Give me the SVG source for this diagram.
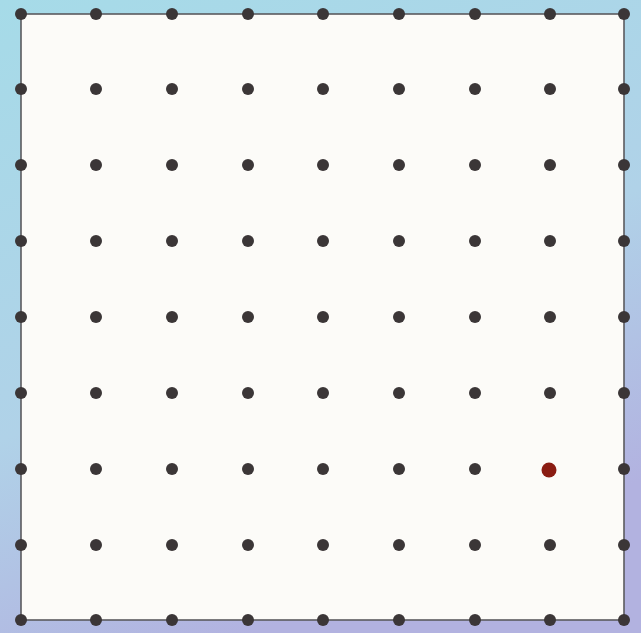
<svg xmlns="http://www.w3.org/2000/svg" width="641" height="633" viewBox="0 0 641 633">
<defs>
<linearGradient id="bg" x1="0" y1="0" x2="0.4" y2="1">
<stop offset="0" stop-color="#a6dbe8"/>
<stop offset="0.6" stop-color="#b0d2e8"/>
<stop offset="1" stop-color="#b2b2e0"/>
</linearGradient>
<style>
.d{fill:#3b3637}
.r{fill:#8a1c12}
</style>
</defs>
<rect width="641" height="633" fill="url(#bg)"/>
<rect x="21" y="14" width="603" height="606" fill="#fcfbf8" stroke="#5a5a5e" stroke-width="1.6"/>
<g id="dots">
<g id="row0"><circle class="d" cx="21" cy="14" r="6"/><circle class="d" cx="96" cy="14" r="6"/><circle class="d" cx="172" cy="14" r="6"/><circle class="d" cx="248" cy="14" r="6"/><circle class="d" cx="323" cy="14" r="6"/><circle class="d" cx="399" cy="14" r="6"/><circle class="d" cx="475" cy="14" r="6"/><circle class="d" cx="550" cy="14" r="6"/><circle class="d" cx="624" cy="14" r="6"/></g>
<g id="row1"><circle class="d" cx="21" cy="89" r="6"/><circle class="d" cx="96" cy="89" r="6"/><circle class="d" cx="172" cy="89" r="6"/><circle class="d" cx="248" cy="89" r="6"/><circle class="d" cx="323" cy="89" r="6"/><circle class="d" cx="399" cy="89" r="6"/><circle class="d" cx="475" cy="89" r="6"/><circle class="d" cx="550" cy="89" r="6"/><circle class="d" cx="624" cy="89" r="6"/></g>
<g id="row2"><circle class="d" cx="21" cy="165" r="6"/><circle class="d" cx="96" cy="165" r="6"/><circle class="d" cx="172" cy="165" r="6"/><circle class="d" cx="248" cy="165" r="6"/><circle class="d" cx="323" cy="165" r="6"/><circle class="d" cx="399" cy="165" r="6"/><circle class="d" cx="475" cy="165" r="6"/><circle class="d" cx="550" cy="165" r="6"/><circle class="d" cx="624" cy="165" r="6"/></g>
<g id="row3"><circle class="d" cx="21" cy="241" r="6"/><circle class="d" cx="96" cy="241" r="6"/><circle class="d" cx="172" cy="241" r="6"/><circle class="d" cx="248" cy="241" r="6"/><circle class="d" cx="323" cy="241" r="6"/><circle class="d" cx="399" cy="241" r="6"/><circle class="d" cx="475" cy="241" r="6"/><circle class="d" cx="550" cy="241" r="6"/><circle class="d" cx="624" cy="241" r="6"/></g>
<g id="row4"><circle class="d" cx="21" cy="317" r="6"/><circle class="d" cx="96" cy="317" r="6"/><circle class="d" cx="172" cy="317" r="6"/><circle class="d" cx="248" cy="317" r="6"/><circle class="d" cx="323" cy="317" r="6"/><circle class="d" cx="399" cy="317" r="6"/><circle class="d" cx="475" cy="317" r="6"/><circle class="d" cx="550" cy="317" r="6"/><circle class="d" cx="624" cy="317" r="6"/></g>
<g id="row5"><circle class="d" cx="21" cy="393" r="6"/><circle class="d" cx="96" cy="393" r="6"/><circle class="d" cx="172" cy="393" r="6"/><circle class="d" cx="248" cy="393" r="6"/><circle class="d" cx="323" cy="393" r="6"/><circle class="d" cx="399" cy="393" r="6"/><circle class="d" cx="475" cy="393" r="6"/><circle class="d" cx="550" cy="393" r="6"/><circle class="d" cx="624" cy="393" r="6"/></g>
<g id="row6"><circle class="d" cx="21" cy="469" r="6"/><circle class="d" cx="96" cy="469" r="6"/><circle class="d" cx="172" cy="469" r="6"/><circle class="d" cx="248" cy="469" r="6"/><circle class="d" cx="323" cy="469" r="6"/><circle class="d" cx="399" cy="469" r="6"/><circle class="d" cx="475" cy="469" r="6"/><circle class="r" cx="549" cy="470" r="7.5"/><circle class="d" cx="624" cy="469" r="6"/></g>
<g id="row7"><circle class="d" cx="21" cy="545" r="6"/><circle class="d" cx="96" cy="545" r="6"/><circle class="d" cx="172" cy="545" r="6"/><circle class="d" cx="248" cy="545" r="6"/><circle class="d" cx="323" cy="545" r="6"/><circle class="d" cx="399" cy="545" r="6"/><circle class="d" cx="475" cy="545" r="6"/><circle class="d" cx="550" cy="545" r="6"/><circle class="d" cx="624" cy="545" r="6"/></g>
<g id="row8"><circle class="d" cx="21" cy="620" r="6"/><circle class="d" cx="96" cy="620" r="6"/><circle class="d" cx="172" cy="620" r="6"/><circle class="d" cx="248" cy="620" r="6"/><circle class="d" cx="323" cy="620" r="6"/><circle class="d" cx="399" cy="620" r="6"/><circle class="d" cx="475" cy="620" r="6"/><circle class="d" cx="550" cy="620" r="6"/><circle class="d" cx="624" cy="620" r="6"/></g>
</g>
</svg>
